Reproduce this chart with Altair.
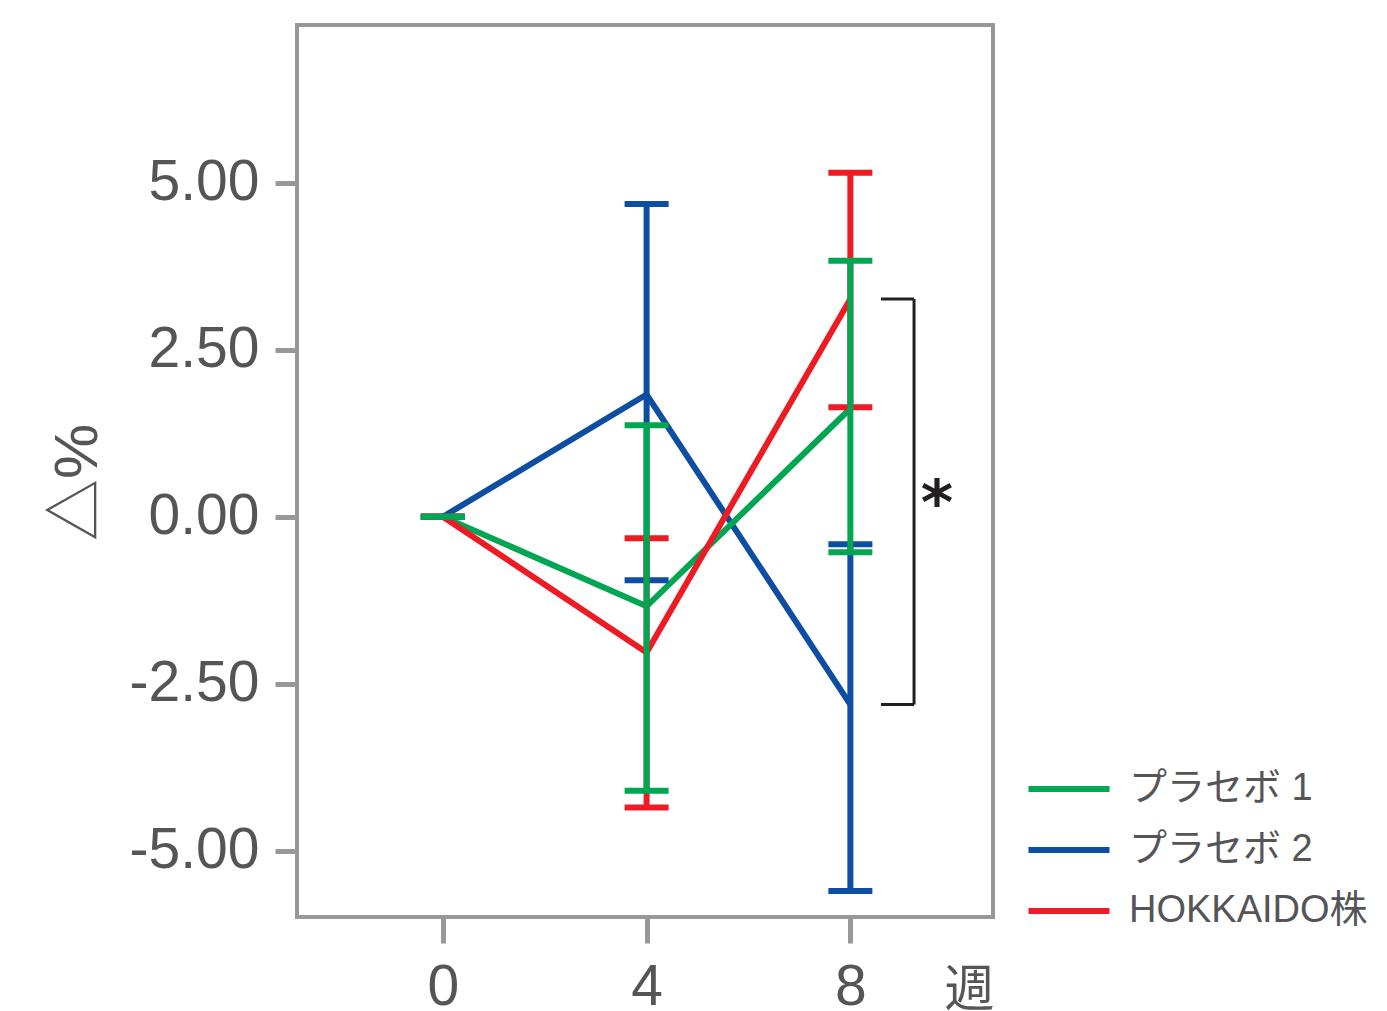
import altair as alt
import pandas as pd

# ---- data ----
weeks = [0, 4, 8]
series = ["プラセボ 1", "プラセボ 2", "HOKKAIDO株"]
colors = ["#00a651", "#0d4ea3", "#ed1c24"]

mean_p1 = [0.0, -1.34, 1.62]
low_p1 = [0.0, -4.10, -0.53]
high_p1 = [0.0, 1.37, 3.83]

mean_p2 = [0.0, 1.83, -2.81]
low_p2 = [0.0, -0.95, -5.60]
high_p2 = [0.0, 4.68, -0.41]

mean_hk = [0.0, -2.03, 3.26]
low_hk = [0.0, -4.35, 1.64]
high_hk = [0.0, -0.32, 5.15]

y_ticks = [-5.0, -2.5, 0.0, 2.5, 5.0]
x_ticks = [0, 4, 8]

# significance bracket (week-8 comparison)
bracket_y = [3.26, -2.81]
bracket_x = [8.6, 9.25]
star_pos = (9.7, 0.17)

rows = []
for name, m, lo, hi in [
    (series[0], mean_p1, low_p1, high_p1),
    (series[1], mean_p2, low_p2, high_p2),
    (series[2], mean_hk, low_hk, high_hk),
]:
    for w, mv, lv, hv in zip(weeks, m, lo, hi):
        rows.append(dict(week=w, group=name, mean=mv, low=lv, high=hv))
df = pd.DataFrame(rows)

XDOM = [-2.863, 10.80]
YDOM = [-5.99, 7.36]
GRAY = "#98989c"
LABEL = "#555558"
FONT = "Liberation Sans, Noto Sans CJK JP"

xs = alt.Scale(domain=XDOM, nice=False, zero=False)
ys = alt.Scale(domain=YDOM, nice=False, zero=False)
cs = alt.Scale(domain=series, range=colors)

x_axis = alt.Axis(values=x_ticks, title="週", grid=False, domain=False,
                  tickColor=GRAY, tickWidth=5, tickSize=26, labelFontSize=57,
                  labelColor=LABEL, labelFont=FONT, labelPadding=16,
                  titleFontSize=50, titleColor=LABEL, titleFont=FONT,
                  titleFontWeight="normal", titleX=672, titleY=48,
                  titleBaseline="top", titleAlign="center")
y_axis = alt.Axis(values=y_ticks, title="△%", grid=False, domain=False,
                  tickColor=GRAY, tickWidth=5, tickSize=22, labelFontSize=57,
                  labelColor=LABEL, labelFont=FONT, labelPadding=16,
                  labelExpr="replace(format(datum.value, '.2f'), '\u2212', '-')",
                  titleFontSize=62, titleColor=LABEL, titleFont=FONT,
                  titleFontWeight="normal", titlePadding=20, titleY=457)

legend = alt.Legend(title=None, orient="none", legendX=742, legendY=734,
                    symbolType="M-1.5,0H1.5", symbolSize=2916,
                    symbolStrokeWidth=6, labelFontSize=38, labelColor=LABEL,
                    labelFont=FONT, labelOffset=30, labelLimit=0,
                    rowPadding=12, padding=0)

# error bars: blue, red, then green on top
err_layers = []
for name in [series[1], series[2], series[0]]:
    b = alt.Chart(df[df.group == name])
    col = colors[series.index(name)]
    err_layers.append(b.mark_rule(strokeWidth=6, color=col).encode(
        x="week:Q", y="low:Q", y2="high:Q"))
    err_layers.append(b.mark_tick(thickness=6, size=44, orient="horizontal",
                                  color=col, opacity=1).encode(x="week:Q", y="low:Q"))
    err_layers.append(b.mark_tick(thickness=6, size=44, orient="horizontal",
                                  color=col, opacity=1).encode(x="week:Q", y="high:Q"))

# mean lines: blue, green, then red on top
line_layers = []
for name in [series[1], series[0], series[2]]:
    line_layers.append(alt.Chart(df[df.group == name]).mark_line(strokeWidth=6).encode(
        x=alt.X("week:Q", scale=xs, axis=x_axis),
        y=alt.Y("mean:Q", scale=ys, axis=y_axis),
        color=alt.Color("group:N", scale=cs, sort=series, legend=legend),
    ))

bdf = pd.DataFrame({"x1": [bracket_x[0], bracket_x[0], bracket_x[1]],
                    "x2": [bracket_x[1], bracket_x[1], bracket_x[1]],
                    "y1": [bracket_y[0], bracket_y[1], bracket_y[0]],
                    "y2": [bracket_y[0], bracket_y[1], bracket_y[1]]})
bracket = alt.Chart(bdf).mark_rule(strokeWidth=3, color="#231f20").encode(
    x="x1:Q", x2="x2:Q", y="y1:Q", y2="y2:Q")

sdf = pd.DataFrame({"x": [star_pos[0]], "y": [star_pos[1]], "t": ["*"]})
star = alt.Chart(sdf).mark_text(fontSize=62, fontWeight="bold", font="DejaVu Sans",
                                color="#231f20", baseline="middle").encode(
    x="x:Q", y="y:Q", text="t:N")

chart = alt.layer(*line_layers, *err_layers, bracket, star).properties(
    width=696, height=892,
    autosize=alt.AutoSizeParams(type="none"),
    padding={"left": 289, "top": 17, "right": 380, "bottom": 94},
).configure_view(stroke=GRAY, strokeWidth=4).configure_legend(padding=0)

chart.save("out.html", embed_options={"renderer": "svg", "actions": False})
